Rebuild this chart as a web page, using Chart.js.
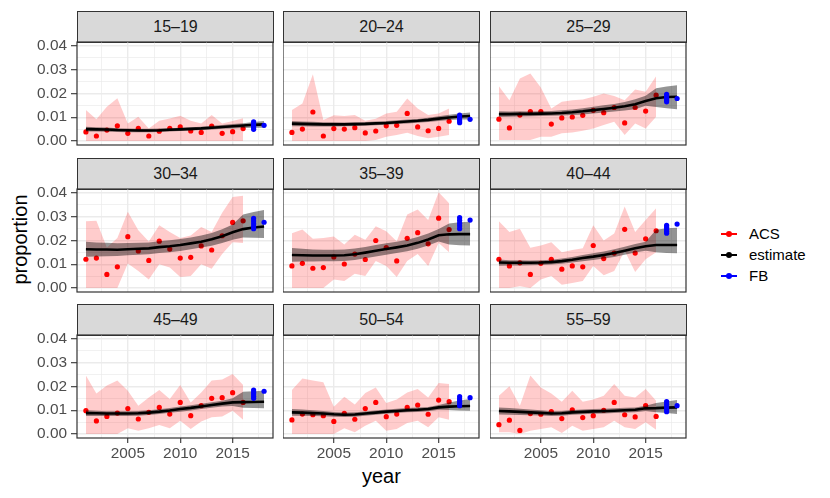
<!DOCTYPE html>
<html>
<head>
<meta charset="utf-8">
<script src="https://cdn.jsdelivr.net/npm/chart.js@4.4.1/dist/chart.umd.min.js"></script>
<style>
  body { margin: 0; background: #fff; font-family: "Liberation Sans", Arial, sans-serif; }
  #wrap { position: relative; width: 830px; height: 498px; overflow: hidden; }
  #wrap canvas { position: absolute; }
  .strip { position: absolute; box-sizing: border-box; background: #d9d9d9; border: 1px solid #333; color: #1a1a1a; font-size: 16px; text-align: center; line-height: 29px; }
  .axis-title { position: absolute; color: #000; font-size: 20px; white-space: nowrap; }
  .leg-row { position: absolute; left: 720px; height: 18px; font-size: 15px; color: #000; }
  .leg-row .key { position: absolute; left: 1px; top: 8px; width: 16px; height: 2px; }
  .leg-row .dot { position: absolute; left: 6px; top: 6px; width: 6px; height: 6px; border-radius: 50%; }
  .leg-row .lab { position: absolute; left: 29px; top: 0; line-height: 18px; }
</style>
</head>
<body>
<div id="wrap">
  <div class="axis-title" style="left:-27px;top:228px;transform:rotate(-90deg);width:94px;text-align:center;">proportion</div>
  <div class="axis-title" style="left:362px;top:465px;">year</div>
  <div class="leg-row" style="top:225px"><span class="key" style="background:#ff0000"></span><span class="dot" style="background:#ff0000"></span><span class="lab">ACS</span></div>
  <div class="leg-row" style="top:246px"><span class="key" style="background:#000"></span><span class="dot" style="background:#000"></span><span class="lab">estimate</span></div>
  <div class="leg-row" style="top:267px"><span class="key" style="background:#0000ff"></span><span class="dot" style="background:#0000ff"></span><span class="lab">FB</span></div>
</div>
<script>
const ageGroups = ["15–19", "20–24", "25–29", "30–34", "35–39", "40–44", "45–49", "50–54", "55–59"];

const acsYears = [2001, 2002, 2003, 2004, 2005, 2006, 2007, 2008, 2009, 2010, 2011, 2012, 2013, 2014, 2015, 2016];
const estYears = [2001, 2002, 2003, 2004, 2005, 2006, 2007, 2008, 2009, 2010, 2011, 2012, 2013, 2014, 2015, 2016, 2017, 2018];

// ACS survey points with their interval (one row per age group)
const acsMid = [
  [0.0038, 0.0021, 0.0046, 0.0064, 0.0032, 0.0053, 0.0021, 0.0041, 0.0053, 0.0059, 0.0042, 0.0036, 0.0063, 0.0032, 0.0039, 0.0052],
  [0.0036, 0.0050, 0.0122, 0.0021, 0.0052, 0.0050, 0.0056, 0.0034, 0.0042, 0.0064, 0.0066, 0.0116, 0.0059, 0.0043, 0.0053, 0.0083],
  [0.0092, 0.0055, 0.0109, 0.0124, 0.0124, 0.0071, 0.0097, 0.0101, 0.0108, 0.0129, 0.0119, 0.0141, 0.0076, 0.0141, 0.0126, 0.0193],
  [0.0121, 0.0126, 0.0057, 0.0089, 0.0216, 0.0156, 0.0116, 0.0197, 0.0164, 0.0126, 0.0129, 0.0177, 0.0160, 0.0220, 0.0276, 0.0283],
  [0.0093, 0.0104, 0.0083, 0.0086, 0.0131, 0.0101, 0.0143, 0.0120, 0.0200, 0.0170, 0.0114, 0.0209, 0.0233, 0.0186, 0.0294, 0.0246],
  [0.0121, 0.0093, 0.0106, 0.0057, 0.0104, 0.0121, 0.0079, 0.0093, 0.0089, 0.0179, 0.0124, 0.0147, 0.0247, 0.0147, 0.0207, 0.0241],
  [0.0098, 0.0055, 0.0074, 0.0088, 0.0107, 0.0063, 0.0091, 0.0112, 0.0084, 0.0133, 0.0077, 0.0119, 0.0150, 0.0153, 0.0174, 0.0133],
  [0.0059, 0.0084, 0.0081, 0.0077, 0.0053, 0.0087, 0.0062, 0.0107, 0.0133, 0.0073, 0.0084, 0.0112, 0.0122, 0.0083, 0.0143, 0.0136],
  [0.0039, 0.0058, 0.0015, 0.0086, 0.0083, 0.0094, 0.0065, 0.0102, 0.0069, 0.0077, 0.0100, 0.0133, 0.0081, 0.0072, 0.0119, 0.0074]
];
const acsLow = [
  [0, 0, 0, 0, 0, 0, 0, 0, 0, 0, 0, 0, 0, 0, 0, 0],
  [0, 0, 0, 0, 0, 0, 0, 0, 0.0004, 0.0018, 0.0025, 0.0035, 0.0021, 0.0011, 0.0018, 0.0025],
  [0.0004, 0.0004, 0.0004, 0.0004, 0.0018, 0.0018, 0.0032, 0.0036, 0.0043, 0.0053, 0.0067, 0.0081, 0.0025, 0.0074, 0.0053, 0.0102],
  [0, 0, 0, 0, 0.0103, 0.0071, 0.0036, 0.0100, 0.0086, 0.0046, 0.0050, 0.0100, 0.0081, 0.0143, 0.0193, 0.0189],
  [0, 0, 0, 0, 0.0036, 0.0029, 0.0060, 0.0050, 0.0114, 0.0093, 0.0046, 0.0114, 0.0143, 0.0093, 0.0189, 0.0150],
  [0, 0, 0.0007, 0, 0.0036, 0.0050, 0.0014, 0.0021, 0.0029, 0.0093, 0.0054, 0.0071, 0.0157, 0.0067, 0.0121, 0.0150],
  [0, 0, 0, 0, 0.0024, 0.0014, 0.0024, 0.0038, 0.0024, 0.0056, 0.0021, 0.0052, 0.0070, 0.0074, 0.0098, 0.0060],
  [0, 0, 0, 0, 0, 0.0024, 0.0007, 0.0035, 0.0056, 0.0014, 0.0021, 0.0046, 0.0056, 0.0028, 0.0070, 0.0060],
  [0.0007, 0.0007, 0, 0.0014, 0.0021, 0.0028, 0.0004, 0.0035, 0.0014, 0.0021, 0.0028, 0.0056, 0.0028, 0.0021, 0.0049, 0.0018]
];
const acsHigh = [
  [0.0130, 0.0092, 0.0144, 0.0180, 0.0074, 0.0102, 0.0053, 0.0085, 0.0095, 0.0106, 0.0085, 0.0074, 0.0109, 0.0074, 0.0084, 0.0096],
  [0.0130, 0.0158, 0.0281, 0.0088, 0.0108, 0.0105, 0.0109, 0.0085, 0.0094, 0.0116, 0.0123, 0.0179, 0.0137, 0.0109, 0.0116, 0.0137],
  [0.0231, 0.0172, 0.0263, 0.0284, 0.0225, 0.0137, 0.0165, 0.0172, 0.0175, 0.0186, 0.0200, 0.0189, 0.0172, 0.0217, 0.0207, 0.0273],
  [0.0281, 0.0283, 0.0171, 0.0211, 0.0321, 0.0243, 0.0196, 0.0264, 0.0236, 0.0211, 0.0221, 0.0257, 0.0236, 0.0317, 0.0383, 0.0389],
  [0.0231, 0.0246, 0.0207, 0.0211, 0.0217, 0.0183, 0.0224, 0.0203, 0.0260, 0.0239, 0.0197, 0.0310, 0.0331, 0.0286, 0.0403, 0.0357],
  [0.0281, 0.0236, 0.0250, 0.0169, 0.0179, 0.0193, 0.0150, 0.0160, 0.0167, 0.0264, 0.0200, 0.0229, 0.0343, 0.0236, 0.0286, 0.0336],
  [0.0246, 0.0171, 0.0204, 0.0225, 0.0182, 0.0119, 0.0154, 0.0185, 0.0147, 0.0206, 0.0133, 0.0175, 0.0225, 0.0229, 0.0253, 0.0206],
  [0.0185, 0.0234, 0.0225, 0.0218, 0.0115, 0.0157, 0.0124, 0.0173, 0.0196, 0.0131, 0.0145, 0.0175, 0.0189, 0.0154, 0.0215, 0.0211],
  [0.0161, 0.0201, 0.0119, 0.0246, 0.0196, 0.0171, 0.0136, 0.0182, 0.0136, 0.0145, 0.0161, 0.0211, 0.0161, 0.0154, 0.0189, 0.0140]
];

// model estimate and its band
const estMid = [
  [0.0050, 0.0049, 0.0048, 0.0046, 0.0045, 0.0044, 0.0044, 0.0045, 0.0047, 0.0049, 0.0051, 0.0053, 0.0056, 0.0059, 0.0062, 0.0065, 0.0068, 0.0070],
  [0.0073, 0.0072, 0.0071, 0.0070, 0.0070, 0.0070, 0.0071, 0.0072, 0.0074, 0.0076, 0.0079, 0.0082, 0.0085, 0.0089, 0.0094, 0.0099, 0.0103, 0.0105],
  [0.0113, 0.0113, 0.0114, 0.0114, 0.0115, 0.0116, 0.0118, 0.0121, 0.0125, 0.0130, 0.0135, 0.0140, 0.0146, 0.0155, 0.0168, 0.0180, 0.0185, 0.0186],
  [0.0163, 0.0162, 0.0162, 0.0161, 0.0163, 0.0165, 0.0167, 0.0172, 0.0176, 0.0181, 0.0188, 0.0195, 0.0205, 0.0218, 0.0235, 0.0248, 0.0255, 0.0259],
  [0.0139, 0.0138, 0.0137, 0.0137, 0.0137, 0.0138, 0.0142, 0.0149, 0.0157, 0.0164, 0.0171, 0.0179, 0.0190, 0.0204, 0.0222, 0.0226, 0.0227, 0.0227],
  [0.0107, 0.0106, 0.0106, 0.0106, 0.0107, 0.0109, 0.0113, 0.0119, 0.0126, 0.0132, 0.0139, 0.0147, 0.0157, 0.0167, 0.0176, 0.0181, 0.0181, 0.0181],
  [0.0088, 0.0087, 0.0086, 0.0086, 0.0086, 0.0087, 0.0090, 0.0094, 0.0099, 0.0105, 0.0110, 0.0116, 0.0122, 0.0128, 0.0133, 0.0134, 0.0135, 0.0136],
  [0.0091, 0.0090, 0.0088, 0.0086, 0.0083, 0.0081, 0.0082, 0.0086, 0.0090, 0.0094, 0.0097, 0.0100, 0.0102, 0.0105, 0.0112, 0.0115, 0.0117, 0.0118],
  [0.0097, 0.0095, 0.0093, 0.0091, 0.0089, 0.0086, 0.0087, 0.0091, 0.0093, 0.0095, 0.0096, 0.0098, 0.0100, 0.0102, 0.0108, 0.0109, 0.0111, 0.0112]
];
const estLow = [
  [0.0040, 0.0040, 0.0039, 0.0038, 0.0037, 0.0037, 0.0037, 0.0038, 0.0040, 0.0042, 0.0044, 0.0046, 0.0048, 0.0051, 0.0053, 0.0055, 0.0056, 0.0056],
  [0.0062, 0.0062, 0.0061, 0.0061, 0.0061, 0.0062, 0.0063, 0.0064, 0.0066, 0.0068, 0.0071, 0.0074, 0.0077, 0.0080, 0.0084, 0.0088, 0.0090, 0.0090],
  [0.0101, 0.0102, 0.0103, 0.0104, 0.0105, 0.0106, 0.0107, 0.0109, 0.0112, 0.0116, 0.0120, 0.0124, 0.0128, 0.0134, 0.0148, 0.0143, 0.0138, 0.0134],
  [0.0132, 0.0133, 0.0134, 0.0135, 0.0138, 0.0140, 0.0142, 0.0147, 0.0151, 0.0156, 0.0163, 0.0170, 0.0178, 0.0189, 0.0203, 0.0213, 0.0212, 0.0211],
  [0.0110, 0.0111, 0.0112, 0.0113, 0.0113, 0.0114, 0.0118, 0.0125, 0.0133, 0.0140, 0.0147, 0.0155, 0.0165, 0.0179, 0.0196, 0.0183, 0.0180, 0.0179],
  [0.0094, 0.0095, 0.0095, 0.0096, 0.0097, 0.0099, 0.0102, 0.0107, 0.0113, 0.0118, 0.0124, 0.0131, 0.0140, 0.0149, 0.0157, 0.0150, 0.0147, 0.0146],
  [0.0076, 0.0076, 0.0076, 0.0076, 0.0076, 0.0077, 0.0080, 0.0084, 0.0089, 0.0094, 0.0099, 0.0105, 0.0110, 0.0116, 0.0118, 0.0110, 0.0109, 0.0108],
  [0.0077, 0.0077, 0.0076, 0.0075, 0.0073, 0.0072, 0.0073, 0.0077, 0.0081, 0.0085, 0.0088, 0.0091, 0.0093, 0.0096, 0.0102, 0.0101, 0.0099, 0.0098],
  [0.0082, 0.0081, 0.0080, 0.0079, 0.0078, 0.0076, 0.0077, 0.0081, 0.0083, 0.0085, 0.0086, 0.0088, 0.0090, 0.0092, 0.0097, 0.0092, 0.0088, 0.0084]
];
const estHigh = [
  [0.0060, 0.0058, 0.0057, 0.0054, 0.0053, 0.0051, 0.0051, 0.0052, 0.0054, 0.0056, 0.0058, 0.0060, 0.0064, 0.0067, 0.0071, 0.0075, 0.0080, 0.0084],
  [0.0084, 0.0082, 0.0081, 0.0079, 0.0079, 0.0078, 0.0079, 0.0080, 0.0082, 0.0084, 0.0087, 0.0090, 0.0093, 0.0098, 0.0104, 0.0110, 0.0116, 0.0120],
  [0.0125, 0.0124, 0.0125, 0.0124, 0.0125, 0.0126, 0.0129, 0.0133, 0.0138, 0.0144, 0.0150, 0.0156, 0.0164, 0.0176, 0.0190, 0.0222, 0.0229, 0.0235],
  [0.0195, 0.0192, 0.0190, 0.0188, 0.0189, 0.0190, 0.0192, 0.0197, 0.0201, 0.0206, 0.0213, 0.0221, 0.0232, 0.0247, 0.0267, 0.0310, 0.0320, 0.0329],
  [0.0168, 0.0165, 0.0162, 0.0161, 0.0161, 0.0162, 0.0166, 0.0173, 0.0181, 0.0188, 0.0195, 0.0203, 0.0215, 0.0229, 0.0248, 0.0272, 0.0277, 0.0279],
  [0.0120, 0.0117, 0.0117, 0.0116, 0.0117, 0.0119, 0.0124, 0.0131, 0.0139, 0.0146, 0.0154, 0.0163, 0.0174, 0.0185, 0.0195, 0.0245, 0.0252, 0.0254],
  [0.0100, 0.0098, 0.0096, 0.0096, 0.0096, 0.0097, 0.0100, 0.0104, 0.0109, 0.0116, 0.0121, 0.0127, 0.0134, 0.0140, 0.0150, 0.0178, 0.0180, 0.0182],
  [0.0105, 0.0103, 0.0100, 0.0097, 0.0093, 0.0090, 0.0091, 0.0095, 0.0099, 0.0103, 0.0106, 0.0109, 0.0111, 0.0114, 0.0122, 0.0133, 0.0141, 0.0147],
  [0.0112, 0.0109, 0.0106, 0.0103, 0.0100, 0.0096, 0.0097, 0.0101, 0.0103, 0.0105, 0.0106, 0.0108, 0.0110, 0.0112, 0.0119, 0.0130, 0.0137, 0.0143]
];

// FB points: several at 2017, one at 2018
const fb2017 = [
  [0.0049, 0.0057, 0.0064, 0.0072, 0.0081],
  [0.0077, 0.0085, 0.0093, 0.0101, 0.0109],
  [0.0165, 0.0172, 0.0180, 0.0188, 0.0196],
  [0.0250, 0.0260, 0.0271, 0.0282, 0.0293],
  [0.0250, 0.0262, 0.0273, 0.0285, 0.0296],
  [0.0231, 0.0239, 0.0247, 0.0256, 0.0264],
  [0.0150, 0.0159, 0.0168, 0.0176, 0.0185],
  [0.0119, 0.0128, 0.0138, 0.0147, 0.0157],
  [0.0094, 0.0104, 0.0115, 0.0125, 0.0136]
];
const fb2018 = [0.0066, 0.0091, 0.0179, 0.0277, 0.0286, 0.0269, 0.0180, 0.0153, 0.0119];

const xMajor = [2005, 2010, 2015];
const xMinor = [2002.5, 2007.5, 2012.5, 2017.5];
const yMajor = [0, 0.01, 0.02, 0.03, 0.04];
const yMinor = [0.005, 0.015, 0.025, 0.035];

// panel geometry (plot area of each facet)
const colX = [77, 283, 490];
const rowY = [42, 189, 335];
const plotW = 196, plotH = 103;
const FONT = "'Liberation Sans', Arial, sans-serif";

const wrap = document.getElementById("wrap");

function toPoints(xs, ys) {
  return ys.map((v, k) => ({ x: xs[k], y: v }));
}

// ggplot-like panel border
const panelBorder = {
  id: "panelBorder",
  afterDraw(chart) {
    const a = chart.chartArea, c = chart.ctx;
    c.save();
    c.strokeStyle = "#333333";
    c.lineWidth = 1.2;
    c.strokeRect(a.left, a.top, a.right - a.left, a.bottom - a.top);
    c.restore();
  }
};

ageGroups.forEach((group, i) => {
  const row = Math.floor(i / 3), col = i % 3;
  const leftAxis = col === 0 ? 77 : 0;
  const bottomAxis = row === 2 ? 34 : 0;
  // room above/below for the y tick labels on the first column
  const padTop = col === 0 ? 10 : 1;
  const padBottom = row === 2 ? 0 : (col === 0 ? 10 : 1);
  const w = leftAxis + plotW + 1;
  const h = padTop + plotH + bottomAxis + padBottom;

  const strip = document.createElement("div");
  strip.className = "strip";
  strip.style.left = colX[col] + "px";
  strip.style.top = (rowY[row] - 31) + "px";
  strip.style.width = (plotW + 1) + "px";
  strip.style.height = "32px";
  strip.textContent = group;
  wrap.appendChild(strip);

  const cv = document.createElement("canvas");
  cv.width = w; cv.height = h;
  cv.style.left = (colX[col] - leftAxis) + "px";
  cv.style.top = (rowY[row] - padTop) + "px";
  cv.style.width = w + "px"; cv.style.height = h + "px";
  wrap.appendChild(cv);

  const fbPts = fb2017[i].map(v => ({ x: 2017, y: v })).concat([{ x: 2018, y: fb2018[i] }]);

  new Chart(cv.getContext("2d"), {
    type: "line",
    data: {
      datasets: [
        { label: "FB", data: fbPts, showLine: false, pointRadius: 2.6, pointBackgroundColor: "#0000ff", pointBorderWidth: 0, order: 0 },
        { label: "estimate", data: toPoints(estYears, estMid[i]), borderColor: "#000000", borderWidth: 2.6, pointRadius: 0, fill: false, order: 1 },
        { label: "estHigh", data: toPoints(estYears, estHigh[i]), borderColor: "transparent", borderWidth: 0, pointRadius: 0, fill: 3, backgroundColor: "rgba(0,0,0,0.42)", order: 2 },
        { label: "estLow", data: toPoints(estYears, estLow[i]), borderColor: "transparent", borderWidth: 0, pointRadius: 0, fill: false, order: 3 },
        { label: "ACS", data: toPoints(acsYears, acsMid[i]), showLine: false, pointRadius: 2.6, pointBackgroundColor: "#ff0000", pointBorderWidth: 0, order: 4 },
        { label: "acsHigh", data: toPoints(acsYears, acsHigh[i]), borderColor: "transparent", borderWidth: 0, pointRadius: 0, fill: 6, backgroundColor: "rgba(255,0,0,0.2)", order: 5 },
        { label: "acsLow", data: toPoints(acsYears, acsLow[i]), borderColor: "transparent", borderWidth: 0, pointRadius: 0, fill: false, order: 6 }
      ]
    },
    options: {
      responsive: false,
      animation: false,
      layout: { autoPadding: false, padding: { top: padTop, right: 1, left: 0, bottom: padBottom } },
      plugins: { legend: { display: false }, tooltip: { enabled: false } },
      elements: { line: { tension: 0 } },
      scales: {
        x: {
          type: "linear",
          min: 2000.15, max: 2018.85,
          afterBuildTicks: s => { s.ticks = xMinor.concat(xMajor).sort((a, b) => a - b).map(v => ({ value: v })); },
          afterFit: s => { s.height = bottomAxis; s.paddingLeft = 0; s.paddingRight = 0; },
          border: { display: false },
          grid: {
            color: "#ebebeb",
            lineWidth: c => xMajor.includes(c.tick.value) ? 1.4 : 0.7,
            drawTicks: row === 2,
            tickLength: 5,
            tickWidth: 1.1,
            tickColor: c => xMajor.includes(c.tick.value) ? "#333333" : "rgba(0,0,0,0)"
          },
          ticks: {
            display: row === 2,
            autoSkip: false, maxRotation: 0, padding: 2,
            color: "#4d4d4d", font: { size: 15.4, family: FONT },
            callback: v => xMajor.includes(v) ? String(v) : ""
          }
        },
        y: {
          type: "linear",
          min: -0.0017, max: 0.0417,
          afterBuildTicks: s => { s.ticks = yMajor.concat(yMinor).sort((a, b) => a - b).map(v => ({ value: v })); },
          afterFit: s => { s.width = leftAxis; s.paddingTop = 0; s.paddingBottom = 0; },
          border: { display: false },
          grid: {
            color: "#ebebeb",
            lineWidth: c => yMajor.includes(c.tick.value) ? 1.4 : 0.7,
            drawTicks: col === 0,
            tickLength: 6,
            tickWidth: 1.1,
            tickColor: c => yMajor.includes(c.tick.value) ? "#333333" : "rgba(0,0,0,0)"
          },
          ticks: {
            display: col === 0,
            autoSkip: false, padding: 4,
            color: "#4d4d4d", font: { size: 15.4, family: FONT },
            callback: v => yMajor.includes(v) ? v.toFixed(2) : ""
          }
        }
      }
    },
    plugins: [panelBorder]
  });
});
</script>
</body>
</html>
